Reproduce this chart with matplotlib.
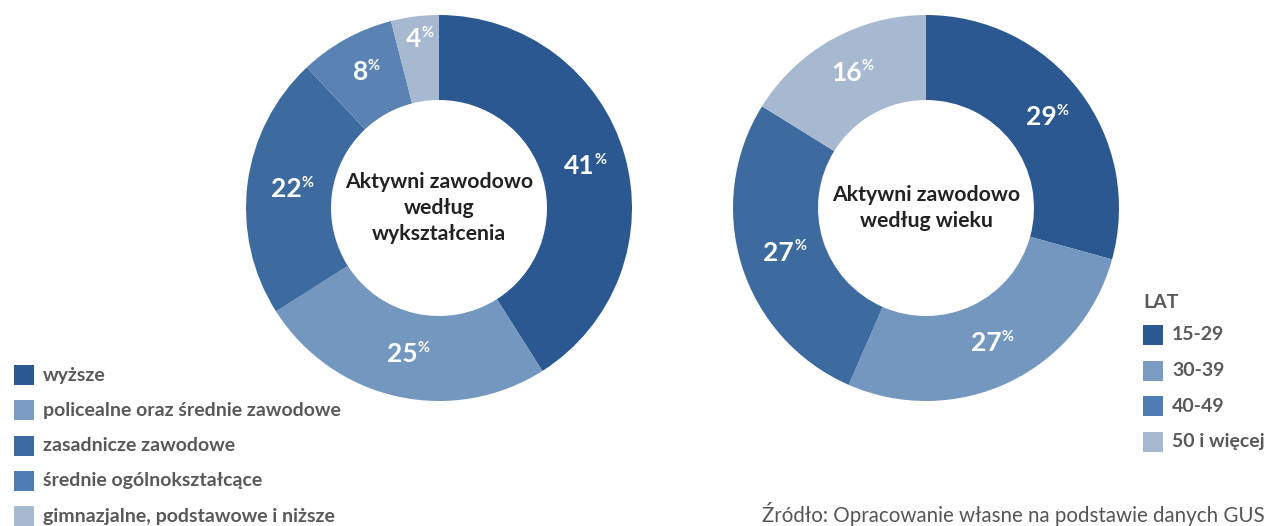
import numpy as np
import matplotlib.pyplot as plt
from matplotlib.patches import Rectangle

plt.rcParams['font.family'] = ['Lato', 'DejaVu Sans']

# dane - wyksztalcenie
edu_labels = ['wyższe', 'policealne oraz średnie zawodowe', 'zasadnicze zawodowe',
              'średnie ogólnokształcące', 'gimnazjalne, podstawowe i niższe']
edu_values = [41, 25, 22, 8, 4]
edu_colors = ['#2b5891', '#7397bf', '#3e6b9f', '#5a83b3', '#a7b9d0']
edu_legend_colors = ['#2b5891', '#7a9bc2', '#3e6b9f', '#4e7db3', '#a7b9d0']

# dane - wiek
age_labels = ['15-29', '30-39', '40-49', '50 i więcej']
age_values = [29, 27, 27, 16]
age_colors = ['#2b5891', '#7397bf', '#3e6b9f', '#a7b9d0']
age_legend_colors = ['#2b5891', '#7a9bc2', '#4e7db3', '#a7b9d0']

W, H = 1268, 526
fig = plt.figure(figsize=(W / 100, H / 100), dpi=100)
ax = fig.add_axes([0, 0, 1, 1])
ax.set_xlim(0, W)
ax.set_ylim(0, H)
ax.set_aspect('equal')
ax.axis('off')

R = 193
WIDTH = 85


def donut(cx, cy, values, colors, title, label_r):
    wedges, _ = ax.pie(values, colors=colors, startangle=90, counterclock=False,
                       center=(cx, cy), radius=R, frame=True,
                       wedgeprops=dict(width=WIDTH, edgecolor='none'))
    for w, v, lr in zip(wedges, values, label_r):
        ang = np.deg2rad((w.theta1 + w.theta2) / 2)
        x = cx + lr * np.cos(ang)
        y = cy + lr * np.sin(ang)
        t = ax.text(x - 4, y, str(v), color='white', fontsize=19, fontweight='bold',
                    ha='center', va='center')
        ax.annotate('%', xy=(1, 1), xycoords=t, xytext=(0, 1), textcoords='offset points',
                    color='white', fontsize=10.5, fontweight='bold', ha='left', va='top')
    ax.text(cx, cy, title, ha='center', va='center', fontsize=15.3, fontweight='bold',
            color='#222222', linespacing=1.35)


donut(439, H - 208, edu_values, edu_colors,
      'Aktywni zawodowo\nwedług\nwykształcenia', [150, 150, 150, 155, 170])
donut(926, H - 208, age_values, age_colors,
      'Aktywni zawodowo\nwedług wieku', [150, 150, 150, 155])

ax.set_xlim(0, W)
ax.set_ylim(0, H)

# legenda lewa
for i, (lab, c) in enumerate(zip(edu_labels, edu_legend_colors)):
    y = H - (375 + i * 35.3)
    ax.add_patch(Rectangle((14, y - 10), 20, 20, color=c, ec='none'))
    ax.text(43, y, lab, fontsize=14, color='#595959', fontweight='bold', va='center', ha='left')

# legenda prawa
ax.text(1143, H - 302, 'LAT', fontsize=14, color='#595959', fontweight='bold', va='center', ha='left')
for i, (lab, c) in enumerate(zip(age_labels, age_legend_colors)):
    y = H - (335 + i * 35.5)
    ax.add_patch(Rectangle((1143, y - 10), 20, 20, color=c, ec='none'))
    ax.text(1172, y, lab, fontsize=14, color='#595959', fontweight='bold', va='center', ha='left')

ax.text(1265, H - 514, 'Źródło: Opracowanie własne na podstawie danych GUS',
        fontsize=14.8, color='#555555', ha='right', va='center')

fig.savefig('out.png', dpi=100)
